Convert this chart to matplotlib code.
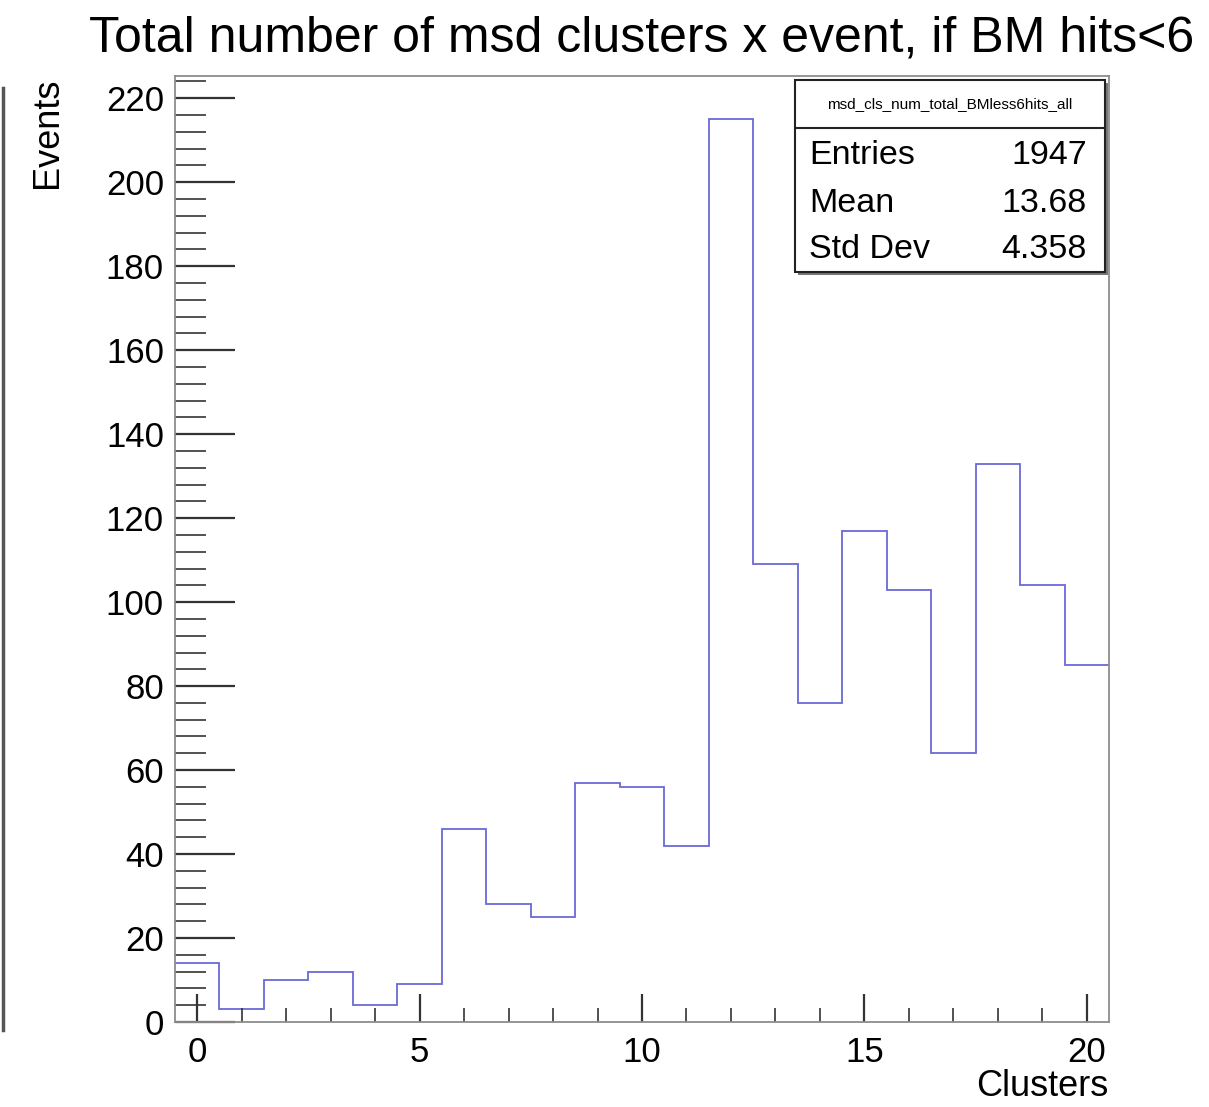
import numpy as np
import matplotlib
matplotlib.use("Agg")
import matplotlib.pyplot as plt
from matplotlib.patches import Rectangle
from matplotlib.lines import Line2D
from matplotlib.ticker import MultipleLocator

plt.rcParams['font.family'] = ['Liberation Sans', 'DejaVu Sans']

# -----------------------------
# datos del histograma (contenido por bin, bins centrados en 0..20)
# -----------------------------
clusters = list(range(0, 21))
events = [14, 3, 10, 12, 4, 9, 46, 28, 25, 57, 56, 42, 215, 109, 76, 117, 103, 64, 133, 104, 85]
stat_names = ['Entries', 'Mean', 'Std Dev']
stat_values = ['1947', '13.68', '4.358']
hist_name = 'msd_cls_num_total_BMless6hits_all'

W, H = 1209, 1107
fig = plt.figure(figsize=(W / 100, H / 100), dpi=100)

def fx(px):
    return px / W

def fy(py):
    return 1 - py / H

ax = fig.add_axes([fx(175), fy(1022), fx(1109) - fx(175), fy(76) - fy(1022)])

edges = np.append(np.array(clusters) - 0.5, clusters[-1] + 0.5)
ax.stairs(events, edges, color='#6a6ad8', linewidth=1.3, baseline=None)

ax.set_xlim(-0.5, 20.5)
ax.set_ylim(0, 225.3)

# ejes estilo ROOT: ticks hacia dentro
ax.xaxis.set_major_locator(MultipleLocator(5))
ax.xaxis.set_minor_locator(MultipleLocator(1))
ax.yaxis.set_major_locator(MultipleLocator(20))
ax.yaxis.set_minor_locator(MultipleLocator(4))
ax.tick_params(axis='both', which='both', direction='in', colors='#333333',
               labelcolor='black', labelsize=25)
ax.tick_params(axis='y', which='major', length=43, width=1.6, pad=8)
ax.tick_params(axis='y', which='minor', length=22, width=1.2)
ax.tick_params(axis='x', which='major', length=20, width=1.6, pad=10)
ax.tick_params(axis='x', which='minor', length=10, width=1.2)
ax.tick_params(top=False, right=False, which='both')
for s in ax.spines.values():
    s.set_color('#8c8c8c')
    s.set_linewidth(1.3)

# titulo y etiquetas
fig.text(fx(642), fy(38), 'Total number of msd clusters x event, if BM hits<6',
         ha='center', va='center', fontsize=36)
fig.text(fx(48), fy(78), 'Events', rotation=90, ha='center', va='top', fontsize=26)
fig.text(fx(1108), fy(1087), 'Clusters', ha='right', va='center', fontsize=26)

# caja de estadisticas
fig.add_artist(Rectangle((fx(798), fy(275)), fx(1105) - fx(795), fy(80) - fy(272),
                         transform=fig.transFigure, facecolor='#777777', edgecolor='none'))
fig.add_artist(Rectangle((fx(795), fy(272)), fx(1105) - fx(795), fy(80) - fy(272),
                         transform=fig.transFigure, facecolor='white', edgecolor='#222222',
                         linewidth=1.5))
fig.add_artist(Line2D([fx(795), fx(1105)], [fy(128), fy(128)], color='#222222', linewidth=1.5))
fig.text(fx(950), fy(104), hist_name, ha='center', va='center', fontsize=11)
row_y = [155, 204, 250]
for name, val, yy in zip(stat_names, stat_values, row_y):
    fig.text(fx(809), fy(yy), name, ha='left', va='center', fontsize=24.5)
    fig.text(fx(1087), fy(yy), val, ha='right', va='center', fontsize=24.5)

# borde del panel vecino a la izquierda
fig.add_artist(Line2D([fx(3), fx(3)], [fy(88), fy(1030)], color='#555555', linewidth=2.5))

fig.savefig('out.png', dpi=100)
